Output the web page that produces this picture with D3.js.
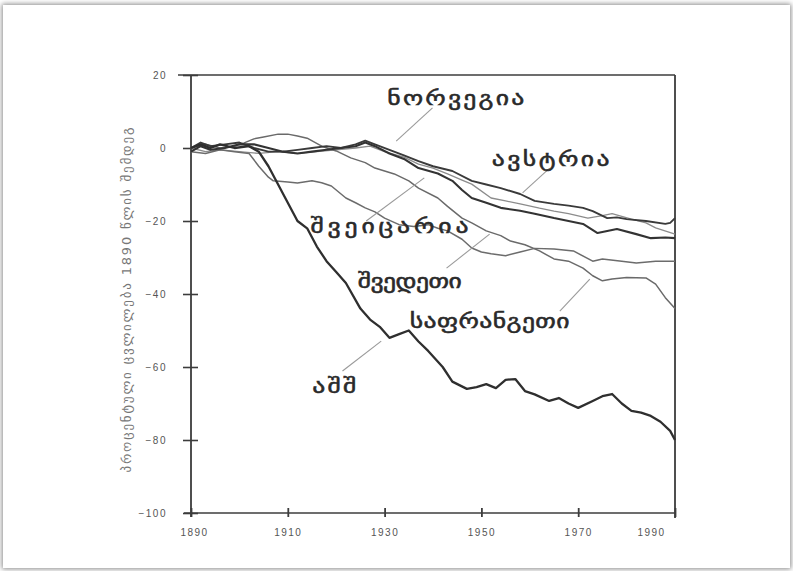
<!DOCTYPE html>
<html>
<head>
<meta charset="utf-8">
<script src="https://cdn.jsdelivr.net/npm/d3@7/dist/d3.min.js"></script>
<style>
  html, body { margin: 0; padding: 0; background: #fff; }
  #sheet {
    position: absolute; left: 3px; top: 5px; width: 787px; height: 563px;
    background: #fff; box-shadow: 0 0 5px 1px #8a8a8a;
  }
  svg { position: absolute; left: 0; top: 0; }
</style>
</head>
<body>
<div id="sheet"></div>
<svg id="chart" width="793" height="571"></svg>
<script>
// Tick values
const xTicks = [1890, 1910, 1930, 1950, 1970, 1990];
const yTicks = [20, 0, -20, -40, -60, -80, -100];

// Series: year and percentage change
const usaYears = [1890,1892,1894,1896,1899,1902,1904,1906,1908,1910,1912,1914,1916,1918,1920,1922,1925,1927,1929,1931,1933,1935,1937,1939,1942,1944,1947,1949,1951,1953,1955,1957,1959,1961,1964,1966,1968,1970,1973,1975,1977,1979,1981,1983,1985,1987,1989,1990];
const usaValues = [0,1,0,1,0,0.5,-1,-5,-10,-15,-20,-22,-27,-31,-34,-37,-44,-47,-49,-52,-51,-50,-53,-55.6,-60,-64,-66,-65.5,-64.7,-65.8,-63.5,-63.3,-66.6,-67.5,-69.3,-68.5,-70,-71.2,-69.3,-68,-67.4,-70,-72,-72.5,-73.4,-75,-77.5,-80];

const austriaYears = [1890,1892,1894,1897,1900,1903,1906,1909,1912,1915,1918,1921,1924,1926,1928,1931,1934,1937,1940,1944,1948,1951,1954,1958,1961,1965,1968,1971,1973,1976,1978,1980,1984,1988,1989,1990];
const austriaValues = [0,1.5,0.5,1,1.5,0,-1,-1,-0.5,0,0.5,0,1,2,1,-0.5,-2,-3.6,-5,-6.3,-9,-10,-11,-12.6,-14.5,-15.3,-15.8,-16.4,-17.3,-19.2,-19,-19.5,-20,-20.8,-20.5,-19.2];

const norwayYears = [1890,1892,1894,1897,1900,1903,1906,1909,1912,1915,1918,1921,1924,1926,1928,1931,1934,1937,1941,1944,1946,1948,1951,1954,1958,1961,1965,1968,1971,1974,1978,1982,1985,1988,1990];
const norwayValues = [-1,0.5,-0.5,0,1,1,0,-1,-1.5,-1,-0.5,0,0.5,1.5,0.5,-1.5,-3,-5.5,-7,-9,-11.5,-13.7,-15,-16.4,-17.2,-18,-19.2,-20,-20.8,-23.3,-22.2,-23.6,-24.7,-24.5,-24.7];

const switzerlandYears = [1890,1893,1896,1900,1904,1908,1912,1916,1920,1924,1927,1930,1934,1937,1940,1943,1946,1948,1952,1955,1958,1962,1965,1968,1972,1975,1977,1981,1984,1986,1990];
const switzerlandValues = [0,-1,-0.5,-1,-1.5,-1,-1.5,-1,-0.5,0,0.5,-1,-2.5,-4.4,-5.5,-7.1,-8.8,-9.9,-13.7,-14.5,-15.3,-16.5,-17.3,-18,-19.2,-18.5,-18,-19.5,-20.5,-21.9,-23.6];

const swedenYears = [1890,1893,1896,1899,1902,1904,1906,1907,1910,1912,1915,1917,1919,1922,1924,1926,1928,1930,1933,1936,1939,1941,1943,1946,1948,1950,1952,1955,1958,1961,1965,1969,1973,1975,1979,1982,1986,1990];
const swedenValues = [-1,-1.5,-0.5,-1,-1.5,-5,-8,-9,-9.3,-9.6,-9,-9.5,-10.4,-13.7,-15,-16.4,-17.5,-19.2,-21,-21.5,-21,-22,-22.7,-25,-27.4,-28.5,-29,-29.5,-28.5,-27.5,-27.7,-28.2,-31,-30.4,-31,-31.5,-31,-31];

const franceYears = [1890,1893,1896,1899,1901,1903,1905,1908,1910,1912,1914,1917,1920,1923,1926,1928,1932,1935,1937,1941,1943,1946,1948,1951,1954,1956,1959,1962,1965,1968,1971,1973,1975,1977,1980,1984,1986,1988,1990];
const franceValues = [0,1,0,0.5,1.4,2.5,3,3.8,3.8,3.3,2.7,0.5,-0.8,-2.7,-4,-5.5,-7.1,-9,-11,-13.7,-16,-19.2,-20.5,-22.7,-24,-25.5,-26.5,-28.2,-30.4,-31,-32.9,-35,-36.4,-35.9,-35.5,-35.6,-37.3,-41,-44];

const seriesNames = ["აშშ", "ავსტრია", "ნორვეგია", "შვეიცარია", "შვედეთი", "საფრანგეთი"];

const series = [
  { name: seriesNames[0], years: usaYears, values: usaValues, color: "#2f2f2f", width: 2.3 },
  { name: seriesNames[1], years: austriaYears, values: austriaValues, color: "#3a3a3a", width: 1.9 },
  { name: seriesNames[2], years: norwayYears, values: norwayValues, color: "#333", width: 2.1 },
  { name: seriesNames[3], years: switzerlandYears, values: switzerlandValues, color: "#8c8c8c", width: 1.3 },
  { name: seriesNames[4], years: swedenYears, values: swedenValues, color: "#6c6c6c", width: 1.5 },
  { name: seriesNames[5], years: franceYears, values: franceValues, color: "#6a6a6a", width: 1.5 }
];

// Annotation placement (in data units): label centre and leader line ends
const callouts = [
  { name: "ნორვეგია",   lx: 1944.7, ly: 13.7,  len: 137, from: [1939.9, 11.0],  to: [1932.4, 1.9] },
  { name: "ავსტრია",    lx: 1964.3, ly: -3.0,  len: 118, from: [1964.1, -5.5],  to: [1958.5, -12.3] },
  { name: "შვეიცარია",  lx: 1931.0, ly: -21.4, len: 158, from: [1926.2, -20.0], to: [1938.2, -8.2] },
  { name: "შვედეთი",    lx: 1935.2, ly: -36.4, len: 104, from: [1942.8, -32.9], to: [1951.7, -23.6] },
  { name: "საფრანგეთი", lx: 1951.7, ly: -47.4, len: 160, from: [1966.2, -44.7], to: [1972.4, -35.9] },
  { name: "აშშ",        lx: 1919.6, ly: -65.2, len: 44,  from: [1921.3, -61.1], to: [1929.3, -52.9] }
];

const svg = d3.select("#chart");
const x = d3.scaleLinear().domain([1890, 1990]).range([191, 675]);
const y = d3.scaleLinear().domain([-100, 20]).range([513, 75]);

const axisColor = "#3c3c3c";
const tickFont = "'Liberation Sans', Arial, sans-serif";

// Frame: top and right edges
svg.append("line").attr("x1", x(1890) - 13).attr("x2", x(1990))
  .attr("y1", y(20)).attr("y2", y(20))
  .attr("stroke", axisColor).attr("stroke-width", 1.6);
svg.append("line").attr("x1", x(1990)).attr("x2", x(1990))
  .attr("y1", y(20)).attr("y2", y(-100) + 5)
  .attr("stroke", axisColor).attr("stroke-width", 1.8);

// Y axis with ticks crossing the line
const yAxis = svg.append("g").attr("transform", `translate(${x(1890)},0)`)
  .call(d3.axisLeft(y).tickValues(yTicks).tickSize(0).tickPadding(24).tickFormat(d3.format("d")));
yAxis.select(".domain").attr("stroke", axisColor).attr("stroke-width", 1.8)
  .attr("d", `M0,${y(20)}V${y(-100) + 4}`);
yAxis.selectAll(".tick").append("line")
  .attr("x1", -8).attr("x2", 7).attr("stroke", axisColor).attr("stroke-width", 1.6);
yAxis.selectAll(".tick text")
  .attr("fill", "#555").style("font-family", tickFont).style("font-size", "10px")
  .style("letter-spacing", "1.5px");

// X axis
const xAxis = svg.append("g").attr("transform", `translate(0,${y(-100)})`)
  .call(d3.axisBottom(x).tickValues(xTicks).tickSize(0).tickPadding(16).tickFormat(d3.format("d")));
xAxis.select(".domain").attr("stroke", axisColor).attr("stroke-width", 1.6)
  .attr("d", `M${x(1890) - 7},0H${x(1990)}`);
xAxis.selectAll(".tick").append("line")
  .attr("y1", -5).attr("y2", 4).attr("stroke", axisColor).attr("stroke-width", 1.8);
xAxis.selectAll(".tick text")
  .attr("fill", "#555").style("font-family", tickFont).style("font-size", "10px")
  .style("letter-spacing", "1.5px")
  .attr("dx", d => d === 1990 ? -24 : (d === 1890 ? 3 : 0));

// Y axis title
svg.append("text")
  .attr("transform", `translate(131,${(y(20) + y(-100)) / 2 + 6}) rotate(-90)`)
  .attr("text-anchor", "middle")
  .attr("fill", "#777")
  .attr("textLength", 345).attr("lengthAdjust", "spacing")
  .style("font-family", "'DejaVu Sans', sans-serif").style("font-size", "13px")
  .text("პროცენტული ცვლილება 1890 წლის შემდეგ");

// Series lines
const line = d3.line().x(d => x(d[0])).y(d => y(d[1])).curve(d3.curveLinear);
const order = [3, 5, 4, 1, 2, 0];
svg.append("g").selectAll("path").data(order.map(i => series[i])).join("path")
  .attr("d", s => line(s.years.map((yr, i) => [yr, s.values[i]])))
  .attr("fill", "none")
  .attr("stroke", s => s.color)
  .attr("stroke-width", s => s.width)
  .attr("stroke-linejoin", "round");

// Leader lines and country labels (glyphs widened horizontally)
const widen = 1.35;
const ann = svg.append("g");
ann.selectAll("line").data(callouts).join("line")
  .attr("x1", d => x(d.from[0])).attr("y1", d => y(d.from[1]))
  .attr("x2", d => x(d.to[0])).attr("y2", d => y(d.to[1]))
  .attr("stroke", "#9a9a9a").attr("stroke-width", 1.1);
ann.selectAll("g.lbl").data(callouts).join("g").attr("class", "lbl")
  .attr("transform", d => `translate(${x(d.lx)},${y(d.ly)}) scale(${widen},1)`)
  .append("text")
  .attr("text-anchor", "middle").attr("dominant-baseline", "central")
  .attr("textLength", d => d.len / widen).attr("lengthAdjust", "spacing")
  .attr("fill", "#2a2a2a").attr("stroke", "#2a2a2a").attr("stroke-width", 0.5)
  .style("font-family", "'DejaVu Sans', sans-serif").style("font-size", "19px")
  .text(d => d.name);
</script>
</body>
</html>
